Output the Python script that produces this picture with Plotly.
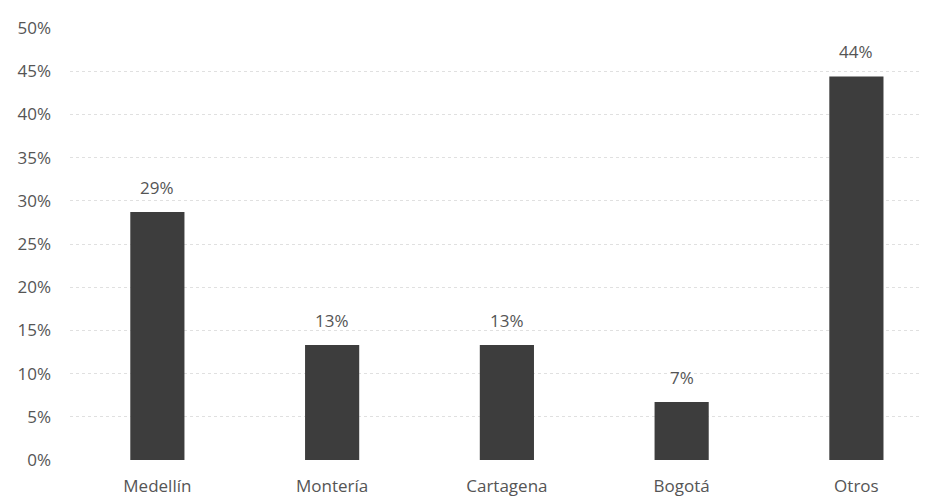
import plotly.graph_objects as go

categories = ["Medellín", "Montería", "Cartagena", "Bogotá", "Otros"]
values = [28.7, 13.3, 13.3, 6.7, 44.4]
tick_vals = [0, 5, 10, 15, 20, 25, 30, 35, 40, 45, 50]
tick_text = [f"{v}%" for v in tick_vals]

font_family = "Open Sans, Noto Sans, sans-serif"
text_color = "#555555"

fig = go.Figure()
fig.add_trace(go.Bar(
    x=categories,
    y=values,
    marker=dict(color="#3d3d3d", line=dict(width=0)),
    width=0.31,
    hoverinfo="skip",
))

for c, v in zip(categories, values):
    fig.add_annotation(
        x=c, y=v, text=f"{round(v):.0f}%", showarrow=False,
        yshift=25, font=dict(family=font_family, size=17, color=text_color),
    )

fig.update_layout(
    width=927, height=497,
    margin=dict(l=62, r=8, t=15, b=45),
    paper_bgcolor="white", plot_bgcolor="white",
    showlegend=False,
    font=dict(family=font_family, size=17, color=text_color),
    xaxis=dict(
        range=[-0.5, 4.404],
        showgrid=False, zeroline=False, showline=False, ticks="",
        tickfont=dict(size=17, color=text_color),
        ticklabelstandoff=14,
    ),
    yaxis=dict(
        range=[0, 50],
        tickvals=tick_vals, ticktext=tick_text,
        showgrid=True, gridcolor="#e0e0e0", griddash="dot", gridwidth=1,
        zeroline=False, showline=False, ticks="",
        tickfont=dict(size=17, color=text_color),
        ticklabelstandoff=18,
    ),
)

fig.write_html("out.html")
